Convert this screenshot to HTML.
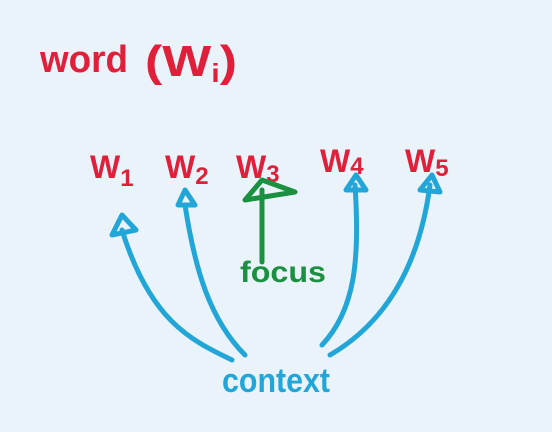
<!DOCTYPE html>
<html><head><meta charset="utf-8"><style>
html,body{margin:0;padding:0;background:#eaf3fa;}
svg{display:block}
text{font-family:"Liberation Sans",sans-serif;font-weight:bold}
</style></head><body>
<svg width="552" height="432" viewBox="0 0 552 432" xmlns="http://www.w3.org/2000/svg">
<rect width="552" height="432" fill="#eaf3fa"/>
<g fill="#e0203a">
<text x="40" y="72" font-size="38" textLength="88" lengthAdjust="spacingAndGlyphs">word</text>
<text x="145" y="76" font-size="44" textLength="92" lengthAdjust="spacingAndGlyphs">(W<tspan font-size="26" dy="6">i</tspan><tspan dy="-6">)</tspan></text>
<text x="90" y="178" font-size="32">W<tspan font-size="24" dy="8">1</tspan></text>
<text x="165" y="178" font-size="32">W<tspan font-size="24" dy="6">2</tspan></text>
<text x="236" y="178" font-size="32">W<tspan font-size="24" dy="4">3</tspan></text>
<text x="320" y="172" font-size="32">W<tspan font-size="24" dy="2">4</tspan></text>
<text x="405" y="172" font-size="32">W<tspan font-size="24" dy="4">5</tspan></text>
</g>
<g stroke="#1a9040" stroke-width="5" fill="none" stroke-linecap="round" stroke-linejoin="round">
<path d="M262 262 L262 190"/>
<path d="M245 200 L262 180 L295 192 Z"/>
</g>
<text x="240" y="282" font-size="30" fill="#1a9040" textLength="86" lengthAdjust="spacingAndGlyphs">focus</text>
<g stroke="#22a6d8" stroke-width="5" fill="none" stroke-linecap="round" stroke-linejoin="round">
<path d="M232 360 C190 340 150 320 122 230"/>
<path d="M112 235 L122 215 L136 230 Z"/>
<path d="M245 355 C210 320 195 270 185 205"/>
<path d="M178 205 L185 190 L195 205 Z"/>
<path d="M322 345 C355 310 360 260 355 185"/>
<path d="M346 190 L356 175 L366 190 Z"/>
<path d="M330 355 C390 320 420 260 430 185"/>
<path d="M420 190 L432 175 L440 192 Z"/>
</g>
<text x="222" y="392" font-size="34" fill="#22a6d8" textLength="108" lengthAdjust="spacingAndGlyphs">context</text>
</svg>
</body></html>
